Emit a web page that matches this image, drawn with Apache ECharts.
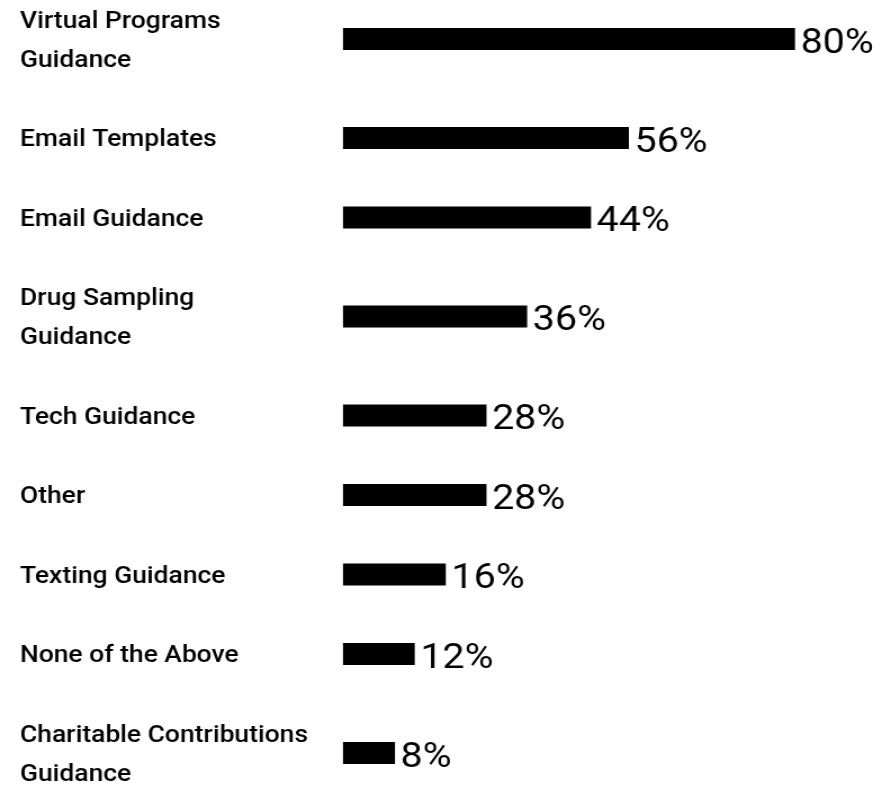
<!DOCTYPE html>
<html>
<head>
<meta charset="utf-8">
<title>Guidance bar chart</title>
<script src="https://cdn.jsdelivr.net/npm/echarts@6/dist/echarts.min.js"></script>
<style>
  html, body { margin: 0; padding: 0; background: #fff; overflow: hidden; }
  /* the reference picture is stretched horizontally, so the chart is drawn narrower and widened */
  #chart { width: 788px; height: 785px; transform: scaleX(1.125); transform-origin: 0 0; }
</style>
</head>
<body>
<div id="chart"></div>
<script>
  // rows, top to bottom
  var categories = [
    'Virtual Programs\nGuidance',
    'Email Templates',
    'Email Guidance',
    'Drug Sampling\nGuidance',
    'Tech Guidance',
    'Other',
    'Texting Guidance',
    'None of the Above',
    'Charitable Contributions\nGuidance'
  ]
  // printed value labels
  var percentLabels = ['80%', '56%', '44%', '36%', '28%', '28%', '16%', '12%', '8%']
  // bar lengths as drawn in the picture (bars do not follow the printed numbers exactly)
  var barValues = [80, 50.6, 43.9, 32.6, 25.4, 25.4, 18.2, 12.7, 9.2]
  var axisMax = 80

  var sx = 1.125 // horizontal stretch, see css
  var chart = echarts.init(document.getElementById('chart'))

  var grids = []
  var xAxes = []
  var yAxes = []
  var series = []

  // one grid per row, rows with two-line labels get more room
  var rowHeight = function (name) {
    return name.indexOf('\n') > -1 ? 118.5 : 79.5
  }
  var y = 39 - rowHeight(categories[0]) / 2
  categories.forEach(function (name, i) {
    var h = rowHeight(name)
    var center = y + h / 2
    y += h
    grids.push({
      left: 343 / sx,
      width: 452 / sx,
      top: center - 20,
      height: 40,
      outerBoundsMode: 'none' // labels may go to the edge, don't shrink the grid
    })
    xAxes.push({ gridIndex: i, type: 'value', min: 0, max: axisMax, show: false })
    yAxes.push({
      gridIndex: i,
      type: 'category',
      data: [name],
      axisLine: { show: false },
      axisTick: { show: false },
      splitLine: { show: false },
      axisLabel: {
        margin: (343 - 20) / sx,
        align: 'left',
        formatter: function (v) {
          return v.split('\n').map(function (s) { return '{a|' + s + '}' }).join('\n')
        },
        rich: {
          a: {
            color: '#000',
            fontFamily: 'Roboto',
            fontWeight: 500,
            fontSize: 23.5,
            lineHeight: 39,
            padding: [5, 0, 0, 0]
          }
        }
      }
    })
    series.push({
      type: 'bar',
      xAxisIndex: i,
      yAxisIndex: i,
      data: [barValues[i]],
      barWidth: 22,
      silent: true,
      itemStyle: { color: '#000' },
      label: {
        show: true,
        position: 'right',
        distance: 5,
        offset: [0, 5],
        formatter: percentLabels[i],
        color: '#000',
        fontFamily: 'Roboto',
        fontSize: 35
      }
    })
  })

  chart.setOption({
    animation: false,
    grid: grids,
    xAxis: xAxes,
    yAxis: yAxes,
    series: series
  })
</script>
</body>
</html>
